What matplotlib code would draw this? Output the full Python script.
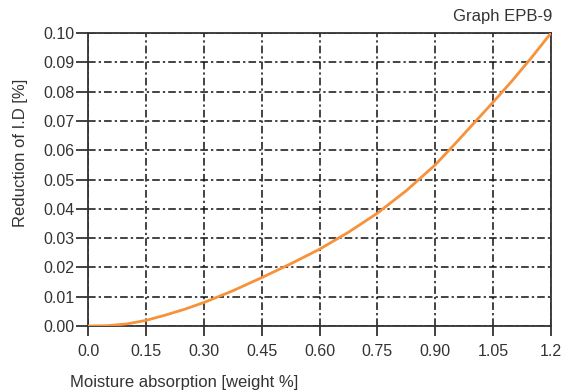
import matplotlib
matplotlib.use("Agg")
import matplotlib.pyplot as plt

plt.rcParams['font.family'] = ['Liberation Sans', 'DejaVu Sans']

# Moisture absorption [weight %] vs reduction of inner diameter [%]
moisture = [0.0, 0.05, 0.10, 0.15, 0.20, 0.25, 0.30, 0.375, 0.45, 0.525, 0.60,
            0.675, 0.75, 0.825, 0.90, 0.95, 1.00, 1.05, 1.10, 1.15, 1.20]
reduction = [0.0, 0.0001, 0.0007, 0.0019, 0.0037, 0.0057, 0.0080, 0.0120, 0.0165,
             0.0212, 0.0262, 0.0320, 0.0385, 0.0462, 0.0550, 0.0620, 0.0692,
             0.0764, 0.0838, 0.0917, 0.1000]

x_ticks = [0.0, 0.15, 0.30, 0.45, 0.60, 0.75, 0.90, 1.05, 1.2]
x_tick_labels = ["0.0", "0.15", "0.30", "0.45", "0.60", "0.75", "0.90", "1.05", "1.2"]
y_ticks = [0.00, 0.01, 0.02, 0.03, 0.04, 0.05, 0.06, 0.07, 0.08, 0.09, 0.10]
y_tick_labels = ["%.2f" % v for v in y_ticks]

fig = plt.figure(figsize=(5.70, 3.92), dpi=100)
ax = fig.add_axes([88 / 570, 1 - 326 / 392, (551 - 88) / 570, (326 - 33) / 392])

ax.plot(moisture, reduction, color="#F7923A", lw=2.0, zorder=3,
        solid_capstyle="round", solid_joinstyle="round")

ax.set_xlim(0, 1.2)
ax.set_ylim(0, 0.10)
ax.set_xticks(x_ticks)
ax.set_xticklabels(x_tick_labels)
ax.set_yticks(y_ticks)
ax.set_yticklabels(y_tick_labels)

ax.grid(True, color="#111111", lw=1.1, linestyle=(0, (5, 2, 1.5, 2)))
for s in ax.spines.values():
    s.set_color("#333333")
    s.set_linewidth(1.3)

ax.tick_params(axis="y", direction="out", length=8.5, width=1.3, color="#333333",
               labelsize=11.5, labelcolor="#333333", pad=1)
ax.tick_params(axis="x", direction="out", length=7, width=1.3, color="#333333",
               labelsize=11.5, labelcolor="#333333", pad=6)

fig.text(21 / 570, 1 - 153 / 392, "Reduction of I.D [%]", fontsize=12,
         color="#333333", rotation=90, ha="center", va="center")
fig.text(70 / 570, 1 - 383 / 392, "Moisture absorption [weight %]", fontsize=12,
         color="#333333", ha="left", va="center")
fig.text(552 / 570, 1 - 17 / 392, "Graph EPB-9", fontsize=12, color="#333333",
         ha="right", va="center")

fig.savefig("out.png", dpi=100)
